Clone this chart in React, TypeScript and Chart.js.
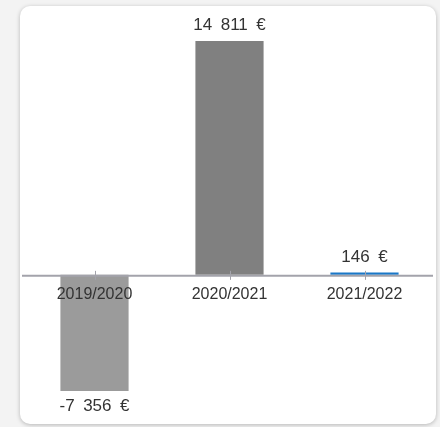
import React, { useEffect, useRef } from "react";
import { Chart, registerables } from "chart.js";

Chart.register(...registerables);

const categories = ["2019/2020", "2020/2021", "2021/2022"];
const values = [-7356, 14811, 146];
const barColors = ["#9b9b9b", "#808080", "#1a78c8"];
const yMin = -7356;
const yMax = 14811;

function formatEuro(v: number): string {
  const sign = v < 0 ? "-" : "";
  const s = Math.abs(Math.round(v)).toString();
  const grouped = s.replace(/\B(?=(\d{3})+(?!\d))/g, "\u2002");
  return sign + grouped + "\u2002€";
}

const overlayPlugin = {
  id: "overlay",
  afterDatasetsDraw(chart: any) {
    const ctx = chart.ctx;
    const area = chart.chartArea;
    const y0 = chart.scales.y.getPixelForValue(0);
    const xScale = chart.scales.x;
    ctx.save();
    // zero line
    ctx.strokeStyle = "#a3a3ab";
    ctx.lineWidth = 2;
    ctx.beginPath();
    ctx.moveTo(area.left - 5, y0 + 1);
    ctx.lineTo(area.right + 1, y0 + 1);
    ctx.stroke();
    // tick marks crossing the line
    ctx.lineWidth = 1;
    for (let i = 0; i < categories.length; i++) {
      const x = Math.round(xScale.getPixelForTick(i)) + 0.5;
      ctx.beginPath();
      ctx.moveTo(x, y0 - 4);
      ctx.lineTo(x, y0 + 5);
      ctx.stroke();
    }
    // value labels
    const meta = chart.getDatasetMeta(0);
    ctx.fillStyle = "#333333";
    ctx.font = "17px 'Liberation Sans', Arial, sans-serif";
    ctx.textAlign = "center";
    meta.data.forEach((el: any, i: number) => {
      const v = values[i];
      const text = formatEuro(v);
      if (v >= 0) {
        ctx.textBaseline = "bottom";
        ctx.fillText(text, el.x, el.y - 7);
      } else {
        ctx.textBaseline = "top";
        ctx.fillText(text, el.x, el.y + 7);
      }
    });
    ctx.restore();
  },
};

export default function App() {
  const ref = useRef<HTMLCanvasElement | null>(null);

  useEffect(() => {
    document.body.style.margin = "0";
    document.body.style.background = "#f3f3f3";
    if (!ref.current) return;
    const chart = new Chart(ref.current, {
      type: "bar",
      data: {
        labels: categories,
        datasets: [
          {
            data: values,
            backgroundColor: barColors,
            borderWidth: 0,
            barPercentage: 0.505,
            categoryPercentage: 1,
          },
        ],
      },
      options: {
        animation: false,
        responsive: false,
        layout: { padding: { left: 7, right: 4, top: 35, bottom: 33 } },
        plugins: {
          legend: { display: false },
          tooltip: { enabled: false },
        },
        scales: {
          x: {
            position: { y: 0 } as any,
            grid: { display: false, drawTicks: false },
            border: { display: false },
            ticks: {
              z: 1,
              color: "#333333",
              padding: 10,
              font: { size: 16, family: "'Liberation Sans', Arial, sans-serif" },
              maxRotation: 0,
            },
          },
          y: {
            display: false,
            min: yMin,
            max: yMax,
          },
        },
      },
      plugins: [overlayPlugin],
    });
    return () => chart.destroy();
  }, []);

  return (
    <div
      style={{
        position: "absolute",
        left: 20,
        top: 6,
        width: 416,
        height: 418,
        background: "#ffffff",
        borderRadius: 10,
        boxShadow: "0 1px 4px rgba(0,0,0,0.25)",
        overflow: "hidden",
      }}
    >
      <canvas ref={ref} width={416} height={418} style={{ display: "block" }} />
    </div>
  );
}
